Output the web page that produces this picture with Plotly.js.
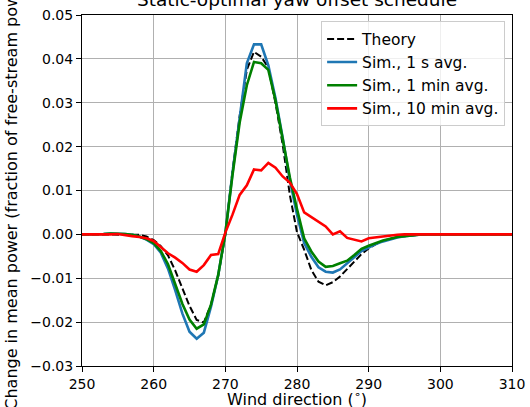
<!DOCTYPE html>
<html>
<head>
<meta charset="utf-8">
<script src="https://cdn.plot.ly/plotly-3.0.1.min.js"></script>
<style>html,body{margin:0;padding:0;background:#fff;}#chart{width:530px;height:407px;}</style>
</head>
<body>
<div id="chart"></div>
<script>
// Wind direction (degrees)
const windDir = [];
for (let d = 250; d <= 310; d++) windDir.push(d);

const theory = [
  0, 0, 0, 0, 0, 0, 0, 0, -0.0001, -0.0005,
  -0.0013, -0.0027, -0.0048, -0.0082, -0.0123, -0.0163, -0.0195, -0.0201, -0.016, -0.0095,
  0.0, 0.0145, 0.027, 0.0375, 0.0416, 0.0405, 0.038, 0.0299, 0.0205, 0.009,
  0.0005, -0.0035, -0.0081, -0.0108, -0.0116, -0.0109, -0.0096, -0.0079, -0.006, -0.0045,
  -0.0032, -0.0022, -0.0015, -0.001, -0.0006, -0.0004, -0.0002, -0.0001, 0, 0,
  0, 0, 0, 0, 0, 0, 0, 0, 0, 0, 0
];
const sim1s = [
  0, 0, 0, 0.0001, 0.0002, 0.0002, 0.0001, -0.0001, -0.0005, -0.0012,
  -0.0022, -0.0042, -0.0078, -0.0127, -0.018, -0.0222, -0.0238, -0.0224, -0.0165, -0.0093,
  0.0002, 0.014, 0.027, 0.039, 0.0433, 0.0433, 0.0385, 0.031, 0.022, 0.0124,
  0.0045, -0.002, -0.0051, -0.0075, -0.0085, -0.0087, -0.008, -0.0066, -0.0051, -0.0038,
  -0.003, -0.0022, -0.0016, -0.0011, -0.0007, -0.0004, -0.0002, -0.0001, 0, 0,
  0, 0, 0, 0, 0, 0, 0, 0, 0, 0, 0
];
const sim1min = [
  0, 0, 0.0001, 0.0001, 0.0002, 0.0002, 0.0001, -0.0001, -0.0005, -0.0011,
  -0.002, -0.0038, -0.0068, -0.0113, -0.0158, -0.0194, -0.0215, -0.0205, -0.016, -0.0093,
  0.0002, 0.0135, 0.0255, 0.034, 0.0393, 0.039, 0.0375, 0.0305, 0.0215, 0.013,
  0.0058, -0.0009, -0.0039, -0.0062, -0.0074, -0.0072, -0.0066, -0.006, -0.0047, -0.0033,
  -0.0026, -0.002, -0.0014, -0.001, -0.0006, -0.0004, -0.0002, -0.0001, 0, 0,
  0, 0, 0, 0, 0, 0, 0, 0, 0, 0, 0
];
const sim10min = [
  0, 0, -0.0001, 0, 0, 0.0001, -0.0002, -0.0004, -0.0006, -0.0009,
  -0.0015, -0.0028, -0.0043, -0.0053, -0.0065, -0.008, -0.0085, -0.007, -0.0047, -0.0045,
  0.0004, 0.0045, 0.009, 0.0112, 0.0148, 0.0146, 0.0163, 0.0152, 0.0132, 0.0118,
  0.0092, 0.005, 0.004, 0.0028, 0.0018, 0.0, 0.0007, -0.0008, -0.0012, -0.0016,
  -0.0009, -0.0007, -0.0004, -0.0002, -0.0001, 0, 0, 0, 0, 0,
  0, 0, 0, 0, 0, 0, 0, 0, 0, 0, 0
];

const seriesNames = ['Theory', 'Sim., 1 s avg.', 'Sim., 1 min avg.', 'Sim., 10 min avg.'];
const xTicks = [250, 260, 270, 280, 290, 300, 310];
const yTicks = [-0.03, -0.02, -0.01, 0.0, 0.01, 0.02, 0.03, 0.04, 0.05];
const xTitle = 'Wind direction (<sup>∘</sup>)';

const FONT = 'DejaVu Sans, Verdana, sans-serif';

const traces = [
  {x: windDir, y: theory, name: seriesNames[0], mode: 'lines',
   line: {color: '#000000', width: 2, dash: '7px,3px'}},
  {x: windDir, y: sim1s, name: seriesNames[1], mode: 'lines',
   line: {color: '#1f77b4', width: 2.6}},
  {x: windDir, y: sim1min, name: seriesNames[2], mode: 'lines',
   line: {color: '#008000', width: 2.6}},
  {x: windDir, y: sim10min, name: seriesNames[3], mode: 'lines',
   line: {color: '#ff0000', width: 2.6}}
];

const layout = {
  width: 530, height: 407,
  margin: {l: 82, r: 18, t: 15, b: 41},
  paper_bgcolor: '#ffffff', plot_bgcolor: '#ffffff',
  font: {family: FONT, size: 14, color: '#000000'},
  title: {text: 'Static-optimal yaw offset schedule', font: {family: FONT, size: 18.5, color: '#000'},
          xref: 'paper', x: 0.5, xanchor: 'center', yref: 'container', y: 1.0, yanchor: 'middle', pad: {t: 0, b: 0}},
  showlegend: true,
  legend: {x: 0.984, y: 0.982, xanchor: 'right', yanchor: 'top',
           bgcolor: 'rgba(255,255,255,0.8)', bordercolor: '#cccccc', borderwidth: 1,
           font: {family: FONT, size: 15.5, color: '#000'}},
  annotations: [
    {text: xTitle, xref: 'paper', yref: 'paper', x: 0.5, y: 0, xanchor: 'center', yanchor: 'top',
     yshift: -20, showarrow: false, font: {family: FONT, size: 16, color: '#000'}}
  ],
  xaxis: {
    range: [250, 310], tickvals: xTicks, ticktext: xTicks.map(String),
    ticks: 'outside', ticklen: 5, tickwidth: 1, tickcolor: '#000',
    showline: true, mirror: true, linecolor: '#000', linewidth: 1,
    showgrid: true, gridcolor: '#b0b0b0', gridwidth: 1, zeroline: false,
    tickfont: {family: FONT, size: 14, color: '#000'},
    automargin: false
  },
  yaxis: {
    range: [-0.03, 0.05], tickvals: yTicks, tickformat: '.2f',
    ticks: 'outside', ticklen: 5, tickwidth: 1, tickcolor: '#000',
    showline: true, mirror: true, linecolor: '#000', linewidth: 1,
    showgrid: true, gridcolor: '#b0b0b0', gridwidth: 1, zeroline: false,
    tickfont: {family: FONT, size: 14, color: '#000'},
    title: {text: 'Change in mean power (fraction of free-stream power)', font: {family: FONT, size: 16, color: '#000'}, standoff: 8},
    automargin: false
  }
};

Plotly.newPlot('chart', traces, layout, {displayModeBar: false, staticPlot: true});
</script>
</body>
</html>
